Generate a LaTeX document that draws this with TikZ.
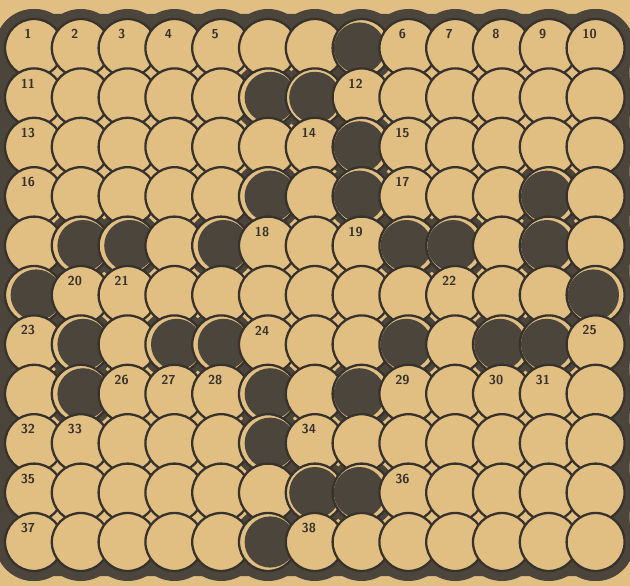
\documentclass[tikz,border=0pt]{standalone}
\usetikzlibrary{positioning, calc}

\definecolor{paper}{RGB}{225,191,131}
\definecolor{ink}{RGB}{56,50,44}
\definecolor{soot}{RGB}{76,69,60}

% casillas negras (fila/columna)
\def\blacklist{1/8, 2/6, 2/7, 3/8, 4/6, 4/8, 4/12, 5/2, 5/3, 5/5, 5/9, 5/10, 5/12, 6/1, 6/13, 7/2, 7/4, 7/5, 7/9, 7/11, 7/12, 8/2, 8/6, 8/8, 9/6, 10/7, 10/8, 11/6}

\begin{document}
\begin{tikzpicture}[
    x=1pt, y=-1pt,
    % --- ESTILOS ---
    cell/.style={circle, draw=ink, line width=2.3pt, fill=paper, minimum size=58pt, inner sep=0pt},
    blackcell/.style={path picture={\fill[soot] ($(path picture bounding box.center)+(\dx,0)$) circle (25.6);}},
    thiscell/.style={},
    num/.style={font=\sffamily\bfseries\fontsize{13}{13}\selectfont, text=ink, inner sep=0pt},
    rim/.style={fill=soot},
    hole/.style={fill=soot}
  ]

  \useasboundingbox (0,0) rectangle (630,586);
  \fill[paper] (0,0) rectangle (630,586);

  % --- 1. Rejilla de centros ---
  \foreach \r in {1,...,11}
    \foreach \c in {1,...,13}
      \coordinate (p-\r-\c) at ({34+(\c-1)*46.8},{48+(\r-1)*49.4});

  % marcar las casillas negras
  \foreach \r/\c in \blacklist {
    \expandafter\gdef\csname black\r-\c\endcsname{}
  }

  % --- 2. Marco oscuro ---
  \foreach \c in {1,...,13} {
    \fill[rim] (p-1-\c) circle (39);
    \fill[rim] (p-11-\c) circle (39);
  }
  \foreach \r in {1,...,11} {
    \fill[rim] (p-\r-1) circle (39);
    \fill[rim] (p-\r-13) circle (39);
  }
  \fill[rim, rounded corners=30pt] ($(p-1-1)+(-34,-34)$) rectangle ($(p-11-13)+(34,34)$);
  \fill[paper] (p-1-1) rectangle (p-11-13);

  % --- 3. Huecos junto a las casillas negras ---
  \foreach \r/\c in \blacklist
    \fill[hole] (p-\r-\c) circle (35);

  % --- 4. Circulos, de arriba abajo y de izquierda a derecha ---
  \foreach \r in {1,...,11}
    \foreach \c in {1,...,13} {
      \pgfmathsetmacro\dx{2.2*sign(7-\c)}
      \ifcsname black\r-\c\endcsname \tikzset{thiscell/.style=blackcell}\fi
      \node[cell, thiscell] (c-\r-\c) at (p-\r-\c) {};
    }

  % --- 5. Numeros ---
  \foreach \n/\r/\c in {1/1/1, 2/1/2, 3/1/3, 4/1/4, 5/1/5, 6/1/9, 7/1/10, 8/1/11, 9/1/12, 10/1/13,
      11/2/1, 12/2/8, 13/3/1, 14/3/7, 15/3/9, 16/4/1, 17/4/9, 18/5/6, 19/5/8,
      20/6/2, 21/6/3, 22/6/10, 23/7/1, 24/7/6, 25/7/13,
      26/8/3, 27/8/4, 28/8/5, 29/8/9, 30/8/11, 31/8/12,
      32/9/1, 33/9/2, 34/9/7, 35/10/1, 36/10/9, 37/11/1, 38/11/7}
    \node[num] (n-\n) at ($(c-\r-\c)+(-6,-14)$) {\n};

\end{tikzpicture}
\end{document}
